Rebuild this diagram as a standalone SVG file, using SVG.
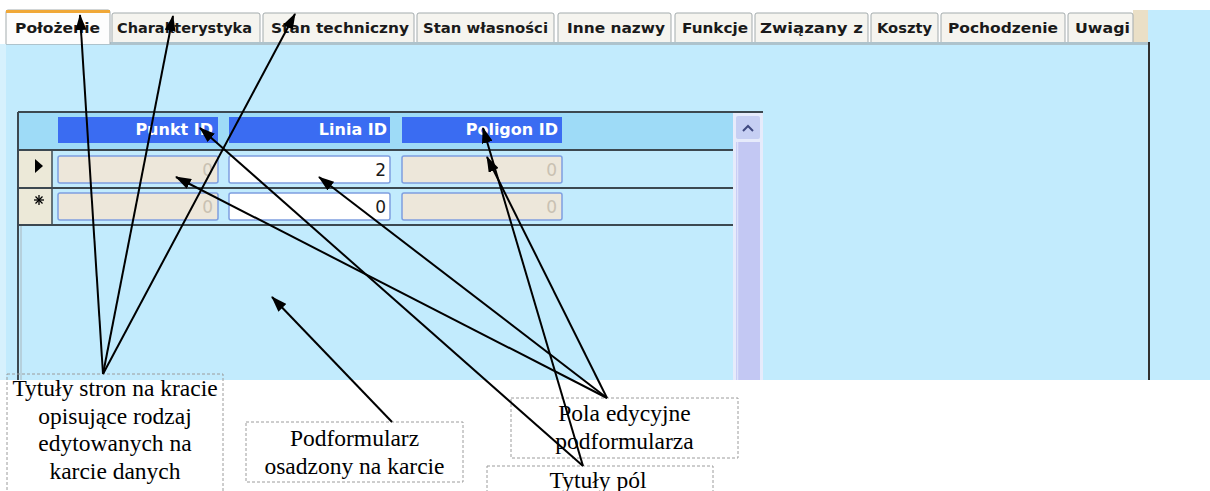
<svg xmlns="http://www.w3.org/2000/svg" width="1210" height="491" viewBox="0 0 1210 491">
<style>
.tab{fill:#f5f4ef;stroke:#a3abad;stroke-width:1}
.tabt{font-family:"DejaVu Sans",Verdana,sans-serif;font-weight:bold;font-size:14.5px;fill:#1a1a1a;text-anchor:middle}
.hdr{fill:#3a6cf2}
.hdrt{font-family:"DejaVu Sans",Verdana,sans-serif;font-weight:bold;font-size:16px;fill:#ffffff;text-anchor:end}
.cellg{fill:#ede7da;stroke:#7f9fe0;stroke-width:1.5}
.cellw{fill:#ffffff;stroke:#7f9fe0;stroke-width:1.5}
.valg{font-family:"DejaVu Sans",Verdana,sans-serif;font-size:17px;fill:#c9c1b2;text-anchor:end}
.valb{font-family:"DejaVu Sans",Verdana,sans-serif;font-size:17px;fill:#1a1a1a;text-anchor:end}
.gl{stroke:#3c4850;stroke-width:2}
.box{fill:none;stroke:#9c9c9c;stroke-width:1;stroke-dasharray:3 2}
.lbl{font-family:"Liberation Serif","Times New Roman",serif;font-size:23.5px;fill:#000;text-anchor:middle}
.con{stroke:#000;stroke-width:2;fill:none;marker-end:url(#ah)}
</style>
<defs>
<marker id="ah" markerUnits="userSpaceOnUse" markerWidth="16" markerHeight="11" refX="15" refY="5.5" orient="auto">
<path d="M0,0 L16,5.5 L0,11 z" fill="#000"/>
</marker>
<linearGradient id="tabg" x1="0" y1="0" x2="0" y2="1">
<stop offset="0" stop-color="#fcfcfd"/><stop offset="1" stop-color="#ecebe5"/>
</linearGradient>
</defs>
<rect x="0" y="0" width="1210" height="491" fill="#ffffff"/>

<g id="panel">
<rect x="0" y="44" width="1210" height="336" fill="#c2ebfd"/>
<rect x="0" y="44" width="6" height="336" fill="#d6f1fd"/>
<rect x="1148" y="10" width="62" height="370" fill="#c2ebfd"/>
<rect x="1133" y="10" width="15" height="33" fill="#eadfc6"/>
<rect x="6" y="42" width="1142" height="3" fill="#aec3cc"/>
<line x1="1149" y1="42" x2="1149" y2="380" stroke="#303030" stroke-width="2"/>
</g>

<g id="tabs">
<g id="tab-polozenie">
<path d="M6,44 V12 Q6,10 8,10 H108 Q110,10 110,12 V44" fill="#fdfdfd" stroke="#a3abad"/>
<rect x="6" y="10" width="104" height="3" fill="#f0a838"/>
<text class="tabt" x="57.5" y="32.5" textLength="85" lengthAdjust="spacingAndGlyphs">Położenie</text>
</g>
<g id="tab-charakterystyka">
<path class="tab" d="M112,42 V15 Q112,13 114,13 H258 Q260,13 260,15 V42" fill="url(#tabg)"/>
<text class="tabt" x="184.5" y="32.5" textLength="135" lengthAdjust="spacingAndGlyphs">Charakterystyka</text>
</g>
<g id="tab-stan-techniczny">
<path class="tab" d="M263,42 V15 Q263,13 265,13 H412 Q414,13 414,15 V42" fill="url(#tabg)"/>
<text class="tabt" x="340" y="32.5" textLength="138" lengthAdjust="spacingAndGlyphs">Stan techniczny</text>
</g>
<g id="tab-stan-wlasnosci">
<path class="tab" d="M417,42 V15 Q417,13 419,13 H552 Q554,13 554,15 V42" fill="url(#tabg)"/>
<text class="tabt" x="485.5" y="32.5" textLength="125" lengthAdjust="spacingAndGlyphs">Stan własności</text>
</g>
<g id="tab-inne-nazwy">
<path class="tab" d="M558,42 V15 Q558,13 560,13 H669 Q671,13 671,15 V42" fill="url(#tabg)"/>
<text class="tabt" x="616" y="32.5" textLength="98" lengthAdjust="spacingAndGlyphs">Inne nazwy</text>
</g>
<g id="tab-funkcje">
<path class="tab" d="M675,42 V15 Q675,13 677,13 H750 Q752,13 752,15 V42" fill="url(#tabg)"/>
<text class="tabt" x="715" y="32.5" textLength="66" lengthAdjust="spacingAndGlyphs">Funkcje</text>
</g>
<g id="tab-zwiazany-z">
<path class="tab" d="M755,42 V15 Q755,13 757,13 H866 Q868,13 868,15 V42" fill="url(#tabg)"/>
<text class="tabt" x="811.5" y="32.5" textLength="103" lengthAdjust="spacingAndGlyphs">Związany z</text>
</g>
<g id="tab-koszty">
<path class="tab" d="M871,42 V15 Q871,13 873,13 H936 Q938,13 938,15 V42" fill="url(#tabg)"/>
<text class="tabt" x="904.5" y="32.5" textLength="55" lengthAdjust="spacingAndGlyphs">Koszty</text>
</g>
<g id="tab-pochodzenie">
<path class="tab" d="M941,42 V15 Q941,13 943,13 H1063 Q1065,13 1065,15 V42" fill="url(#tabg)"/>
<text class="tabt" x="1003" y="32.5" textLength="110" lengthAdjust="spacingAndGlyphs">Pochodzenie</text>
</g>
<g id="tab-uwagi">
<path class="tab" d="M1068,42 V15 Q1068,13 1070,13 H1131 Q1133,13 1133,15 V42" fill="url(#tabg)"/>
<text class="tabt" x="1102.5" y="32.5" textLength="55" lengthAdjust="spacingAndGlyphs">Uwagi</text>
</g>
</g>

<g id="subform">
<rect x="19" y="113" width="714" height="37" fill="#9edbf7"/>
<rect x="19" y="151" width="33" height="74" fill="#ece9d8"/>
<line class="gl" x1="18" y1="112" x2="763" y2="112"/>
<line class="gl" x1="18" y1="150" x2="733" y2="150"/>
<line class="gl" x1="18" y1="188" x2="733" y2="188"/>
<line class="gl" x1="18" y1="225" x2="733" y2="225"/>
<line class="gl" x1="18" y1="112" x2="18" y2="380"/>
<line x1="21" y1="226" x2="21" y2="380" stroke="#a9b6bd" stroke-width="1"/>
<line x1="52" y1="150" x2="52" y2="225" stroke="#3c4850" stroke-width="1.5"/>
<polygon points="35,159 43,166 35,173" fill="#000"/>
<g stroke="#000" stroke-width="1.3">
<line x1="34" y1="200" x2="44" y2="200"/>
<line x1="39" y1="195" x2="39" y2="205"/>
<line x1="35.5" y1="196.5" x2="42.5" y2="203.5"/>
<line x1="35.5" y1="203.5" x2="42.5" y2="196.5"/>
</g>
<g id="hdr-punkt"><rect class="hdr" x="58" y="117" width="160" height="26"/><text class="hdrt" x="213" y="135">Punkt ID</text></g>
<g id="hdr-linia"><rect class="hdr" x="229" y="117" width="161" height="26"/><text class="hdrt" x="387" y="135">Linia ID</text></g>
<g id="hdr-poligon"><rect class="hdr" x="402" y="117" width="160" height="26"/><text class="hdrt" x="558" y="135">Poligon ID</text></g>
<rect class="cellg" x="58" y="156" width="160" height="27" rx="2"/><text class="valg" x="213" y="176">0</text>
<rect class="cellw" x="229" y="156" width="161" height="27" rx="2"/><text class="valb" x="386" y="176">2</text>
<rect class="cellg" x="402" y="156" width="160" height="27" rx="2"/><text class="valg" x="557" y="176">0</text>
<rect class="cellg" x="58" y="193" width="160" height="27" rx="2"/><text class="valg" x="213" y="213">0</text>
<rect class="cellw" x="229" y="193" width="161" height="27" rx="2"/><text class="valb" x="386" y="213">0</text>
<rect class="cellg" x="402" y="193" width="160" height="27" rx="2"/><text class="valg" x="557" y="213">0</text>
<rect x="733" y="113" width="30" height="267" fill="#e6ebfb"/>
<rect x="736" y="116" width="24" height="23" rx="2" fill="#c6cff3"/>
<path d="M743,131 L748,126 L753,131" stroke="#404a80" stroke-width="2" fill="none"/>
<rect x="736" y="142" width="24" height="238" fill="#c3c8f3"/>
<line x1="737.5" y1="142" x2="737.5" y2="380" stroke="#dde2fb" stroke-width="1.5"/>
</g>

<g id="label-tytuly-stron">
<rect class="box" x="7" y="374" width="216" height="122"/>
<text class="lbl" x="115" y="396">Tytuły stron na kracie</text>
<text class="lbl" x="115" y="423.7">opisujące rodzaj</text>
<text class="lbl" x="115" y="451.4">edytowanych na</text>
<text class="lbl" x="115" y="479">karcie danych</text>
</g>
<g id="label-podformularz">
<rect class="box" x="246" y="422" width="217" height="60"/>
<text class="lbl" x="354.5" y="446">Podformularz</text>
<text class="lbl" x="354.5" y="474">osadzony na karcie</text>
</g>
<g id="label-pola-edycyjne">
<rect class="box" x="511" y="398" width="227" height="60"/>
<text class="lbl" x="624.5" y="421">Pola edycyjne</text>
<text class="lbl" x="624.5" y="449">podformularza</text>
</g>
<g id="label-tytuly-pol">
<rect class="box" x="487" y="466" width="226" height="40"/>
<text class="lbl" x="598" y="488">Tytuły pól</text>
</g>

<g id="connectors">
<line class="con" x1="103" y1="374" x2="80" y2="15"/>
<line class="con" x1="103" y1="374" x2="173" y2="16"/>
<line class="con" x1="103" y1="374" x2="295" y2="14"/>
<line class="con" x1="392" y1="422" x2="272" y2="297"/>
<line class="con" x1="607" y1="398" x2="176" y2="177"/>
<line class="con" x1="607" y1="398" x2="319" y2="177"/>
<line class="con" x1="607" y1="398" x2="487" y2="157"/>
<line class="con" x1="583" y1="466" x2="200" y2="128"/>
<line class="con" x1="583" y1="466" x2="483" y2="128"/>
</g>
</svg>
